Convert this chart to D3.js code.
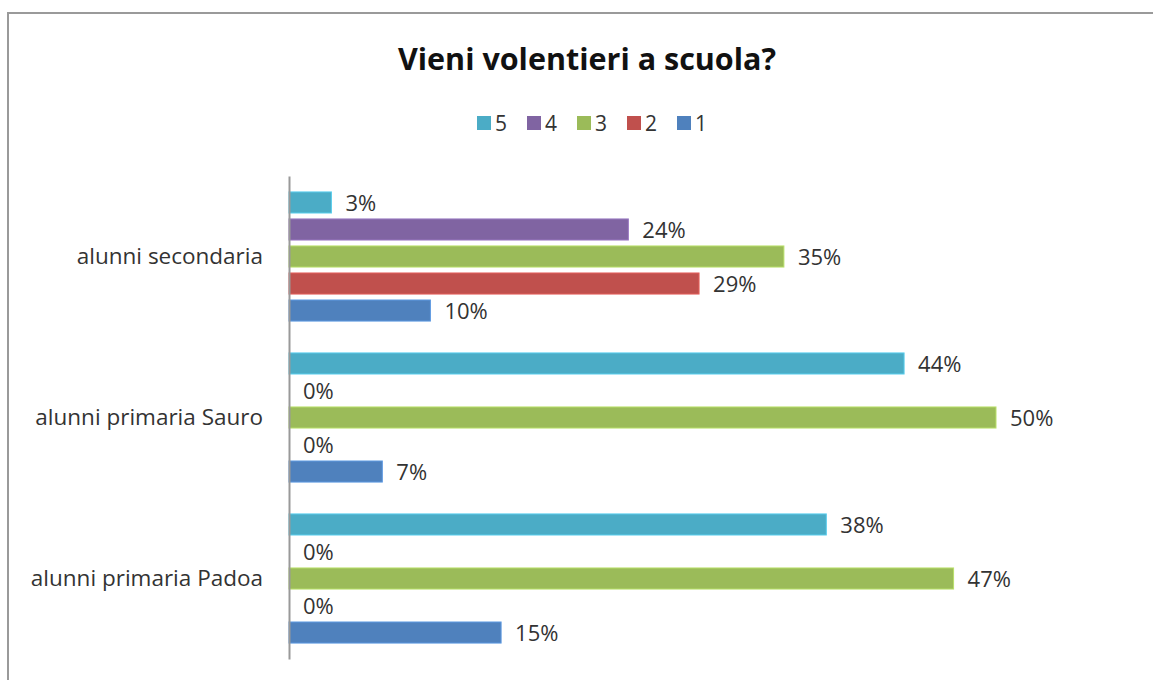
<!DOCTYPE html>
<html>
<head>
<meta charset="utf-8">
<script src="https://cdn.jsdelivr.net/npm/d3@7"></script>
<style>
    body { margin: 0; background: #fff; }
    text { font-family: "Open Sans", "Noto Sans", sans-serif; }
</style>
</head>
<body>
<svg id="chart" width="1153" height="680"></svg>
<script>
// data (percent)
var categories = ["alunni secondaria", "alunni primaria Sauro", "alunni primaria Padoa"];
var seriesNames = ["5", "4", "3", "2", "1"];
var seriesColors = ["#4BACC6", "#8064A2", "#9BBB59", "#C0504D", "#4F81BD"];
var values5 = [3, 43.5, 38];
var values4 = [24, 0, 0];
var values3 = [35, 50, 47];
var values2 = [29, 0, 0];
var values1 = [10, 6.6, 15];

var allValues = [values5, values4, values3, values2, values1];

var svg = d3.select("#chart");

// outer frame of the chart area
svg.append("rect")
    .attr("x", 8)
    .attr("y", 13)
    .attr("width", 1200)
    .attr("height", 700)
    .attr("fill", "#fff")
    .attr("stroke", "#9a9a9a")
    .attr("stroke-width", 2);

// title
svg.append("text")
    .attr("x", 587)
    .attr("y", 70)
    .attr("text-anchor", "middle")
    .attr("font-size", 30.5)
    .attr("font-weight", "bold")
    .attr("fill", "#111")
    .text("Vieni volentieri a scuola?");

// legend
var legend = svg.append("g").attr("transform", "translate(477,116)");
seriesNames.forEach(function (name, i) {
    var g = legend.append("g").attr("transform", "translate(" + i * 50 + ",0)");
    g.append("rect")
        .attr("width", 14)
        .attr("height", 14)
        .attr("fill", seriesColors[i]);
    g.append("text")
        .attr("x", 18)
        .attr("y", 7)
        .attr("dy", "0.36em")
        .attr("font-size", 21)
        .attr("fill", "#333")
        .text(name);
});

var x = d3.scaleLinear().domain([0, 60]).range([289, 289 + 60 * 14.14]);

var y0 = d3.scaleBand().domain(categories).range([176, 659]);

var y1 = d3.scaleBand()
    .domain(seriesNames)
    .range([0, y0.bandwidth()])
    .paddingInner(0.22)
    .paddingOuter(0.59);

var rows = [];
categories.forEach(function (cat, c) {
    seriesNames.forEach(function (s, i) {
        rows.push({ cat: cat, series: s, color: seriesColors[i], value: allValues[i][c] });
    });
});

var plot = svg.append("g");

plot.selectAll("rect.bar")
    .data(rows)
    .enter()
    .append("rect")
    .attr("class", "bar")
    .attr("x", x(0))
    .attr("y", function (d) { return y0(d.cat) + y1(d.series); })
    .attr("width", function (d) { return x(d.value) - x(0); })
    .attr("height", y1.bandwidth())
    .attr("fill", function (d) { return d.color; })
    .attr("stroke", function (d) { return d3.color(d.color).brighter(0.5); })
    .attr("stroke-width", function (d) { return d.value > 0 ? 1 : 0; });

plot.selectAll("text.lbl")
    .data(rows)
    .enter()
    .append("text")
    .attr("class", "lbl")
    .attr("x", function (d) { return x(d.value) + 14; })
    .attr("y", function (d) { return y0(d.cat) + y1(d.series) + y1.bandwidth() / 2 + 1; })
    .attr("dy", "0.36em")
    .attr("font-size", 22)
    .attr("fill", "#333")
    .text(function (d) { return Math.round(d.value) + "%"; });

// category axis
var yAxis = d3.axisLeft(y0).tickSize(0).tickPadding(26);
var axisG = svg.append("g")
    .attr("transform", "translate(" + x(0) + ",0)")
    .call(yAxis);
axisG.select(".domain").attr("stroke", "#999").attr("stroke-width", 2);
axisG.selectAll("text")
    .attr("font-size", 22.5)
    .attr("fill", "#333")
    .style("font-family", "'Open Sans', sans-serif");
</script>
</body>
</html>
